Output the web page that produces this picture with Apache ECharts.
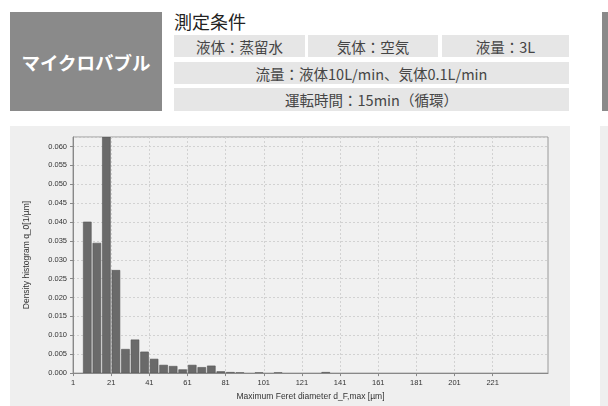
<!DOCTYPE html>
<html>
<head>
<meta charset="utf-8">
<script src="https://cdn.jsdelivr.net/npm/echarts@6/dist/echarts.min.js"></script>
<style>
  html, body { margin: 0; padding: 0; background: #ffffff; width: 608px; height: 406px; overflow: hidden; }
  .abs { position: absolute; box-sizing: border-box; }
  .jp { font-family: "Noto Sans CJK JP", "Noto Sans", sans-serif; }
  .cell { background: #e6e6e6; color: #454545; font-size: 14.5px; font-weight: 400; display: flex; align-items: center; justify-content: center; white-space: nowrap; }
</style>
</head>
<body>
<div class="abs jp" style="left:10px;top:12px;width:152px;height:99px;background:#8a8a8a;color:#fff;font-size:18.5px;font-weight:bold;display:flex;align-items:center;justify-content:center;">マイクロバブル</div>
<div class="abs jp" style="left:174px;top:9px;font-size:18px;font-weight:400;color:#222;line-height:24px;">測定条件</div>
<div class="abs jp cell" style="left:174px;top:35px;width:131px;height:22px;">液体：蒸留水</div>
<div class="abs jp cell" style="left:308px;top:35px;width:130px;height:22px;">気体：空気</div>
<div class="abs jp cell" style="left:442px;top:35px;width:127px;height:22px;">液量：3L</div>
<div class="abs jp cell" style="left:174px;top:62px;width:395px;height:22px;">流量：液体10L/min、気体0.1L/min</div>
<div class="abs jp cell" style="left:174px;top:88px;width:395px;height:23px;">運転時間：15min（循環）</div>
<div class="abs" style="left:602px;top:12px;width:6px;height:99px;background:#8a8a8a;"></div>
<div class="abs" style="left:600px;top:126px;width:8px;height:280px;background:#efefef;"></div>
<div id="chart" class="abs" style="left:10px;top:126px;width:560px;height:280px;background:#efefef;"></div>
<script>
// Histogram bins (lower edge, µm) and density values q_0 [1/µm]
const binStart = [6, 11, 16, 21, 26, 31, 36, 41, 46, 51, 56, 61, 66, 71, 76, 81, 86, 96, 106, 131];
const density  = [0.0400, 0.0344, 0.0625, 0.0272, 0.0063, 0.0088, 0.0056, 0.0037, 0.0021, 0.0018, 0.0009, 0.0021, 0.0015, 0.0019, 0.0004, 0.0002, 0.0001, 0.0001, 0.0001, 0.0002];
const binWidth = 5;
const xTickValues = [1, 21, 41, 61, 81, 101, 121, 141, 161, 181, 201, 221];
const yTickStep = 0.005;

const chart = echarts.init(document.getElementById('chart'), null, { renderer: 'canvas' });
const data = binStart.map((s, i) => [s, s + binWidth, density[i]]);
const font = '"Liberation Sans", Arial, sans-serif';

chart.setOption({
  animation: false,
  backgroundColor: '#efefef',
  grid: { left: 63, top: 11, width: 475, height: 240, show: true, backgroundColor: '#f1f1f1', borderColor: '#9a9a9a', borderWidth: 1 },
  xAxis: {
    type: 'value', min: 1, max: 250,
    name: 'Maximum Feret diameter d_F,max [µm]', nameLocation: 'middle', nameGap: 16,
    nameTextStyle: { fontFamily: font, fontSize: 8.5, color: '#333' },
    axisLine: { show: true, lineStyle: { color: '#888', width: 1 } },
    axisTick: { show: true, length: 3, lineStyle: { color: '#888' }, customValues: xTickValues },
    axisLabel: { fontFamily: font, fontSize: 7.5, color: '#333', margin: 6, customValues: xTickValues },
    splitLine: { show: true, lineStyle: { color: '#d2d2d2', type: [2, 2], width: 1 } }
  },
  yAxis: {
    type: 'value', min: 0, max: 0.0625, interval: yTickStep,
    name: 'Density histogram q_0[1/µm]', nameLocation: 'middle', nameGap: 42, nameRotate: 90,
    nameTextStyle: { fontFamily: font, fontSize: 8.5, color: '#333' },
    axisLine: { show: true, lineStyle: { color: '#888', width: 1 } },
    axisTick: { show: true, length: 3, lineStyle: { color: '#888' } },
    axisLabel: { fontFamily: font, fontSize: 7.5, color: '#333', margin: 6, formatter: v => v.toFixed(3),
      showMaxLabel: false },
    splitLine: { show: true, lineStyle: { color: '#d2d2d2', type: [2, 2], width: 1 } }
  },
  series: [{
    type: 'custom',
    clip: true,
    data: data,
    renderItem: function (params, api) {
      const p0 = api.coord([api.value(0), api.value(2)]);
      const p1 = api.coord([api.value(1), 0]);
      const x = p0[0] + 0.8, w = p1[0] - p0[0] - 1.6;
      return {
        type: 'rect',
        shape: { x: x, y: p0[1], width: w, height: p1[1] - p0[1] },
        style: { fill: '#6a6a6a', stroke: '#555', lineWidth: 0.6 }
      };
    }
  }]
});
</script>
</body>
</html>
